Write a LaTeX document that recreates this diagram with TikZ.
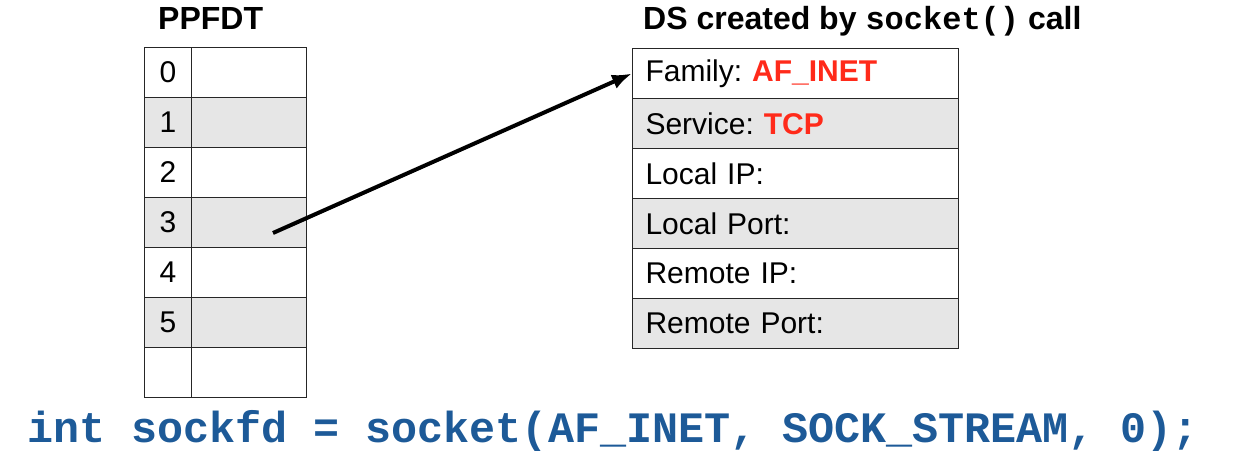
\documentclass[tikz,border=0pt]{standalone}
\usepackage{fontspec}
\setmainfont{Liberation Sans}
\setmonofont{Liberation Mono}
\usetikzlibrary{arrows.meta}
\definecolor{cellgray}{HTML}{E6E6E6}
\definecolor{fieldred}{HTML}{FF2A1A}
\definecolor{codeblue}{HTML}{1D5A98}

\begin{document}
\begin{tikzpicture}[x=1pt, y=-1pt]
	\tikzset{cell/.style={draw=black!85, line width=1pt, anchor=north west,
			inner sep=0pt, minimum height=50pt, font=\fontsize{30}{34}\selectfont},
		field/.style={cell, inner xsep=13pt, text width=300pt, align=left},
		ptr/.style={line width=4pt, black, -{Latex[length=20pt, width=15pt]}},
		title/.style={anchor=base west, inner sep=0pt, font=\bfseries\fontsize{32}{36}\selectfont}}
	\useasboundingbox (0,0) rectangle (1233,468);
	% \draw[help lines] (0,0) grid[step=50] (1233,468);

	\node[title] (ppfdt) at (158, 30) {PPFDT};
	\node[title] (dstitle) at (643, 30) {DS created by \texttt{socket()} call};

	% file descriptor table
	\foreach \i/\f/\lbl in {0/white/0, 1/cellgray/1, 2/white/2, 3/cellgray/3,
			4/white/4, 5/cellgray/5, 6/white/{}}
	{
		\node[cell, fill=\f, minimum width=47pt] (fd\i) at (144, 47+50*\i) {\lbl};
		\node[cell, fill=\f, minimum width=115pt] (slot\i) at (191, 47+50*\i) {};
	}

	% socket data structure
	\foreach \i/\f/\txt in {
			0/white/{Family:~\textcolor{fieldred}{\bfseries AF\_INET}},
			1/cellgray/{Service:~\textcolor{fieldred}{\bfseries TCP}},
			2/white/{Local IP:},
			3/cellgray/{Local Port:},
			4/white/{Remote IP:},
			5/cellgray/{Remote Port:}}
	{
		\node[field, fill=\f] (ds\i) at (632, 48+50*\i) {\txt};
	}

	\coordinate (tail) at (273, 233);
	\draw[ptr] (tail) -- (ds0.west);

	\node[anchor=base west, inner sep=0pt, text=codeblue,
		font=\ttfamily\bfseries\fontsize{43.4}{48}\selectfont] (call) at (27, 442)
	{int sockfd = socket(AF\_INET, SOCK\_STREAM, 0);};
\end{tikzpicture}
\end{document}
